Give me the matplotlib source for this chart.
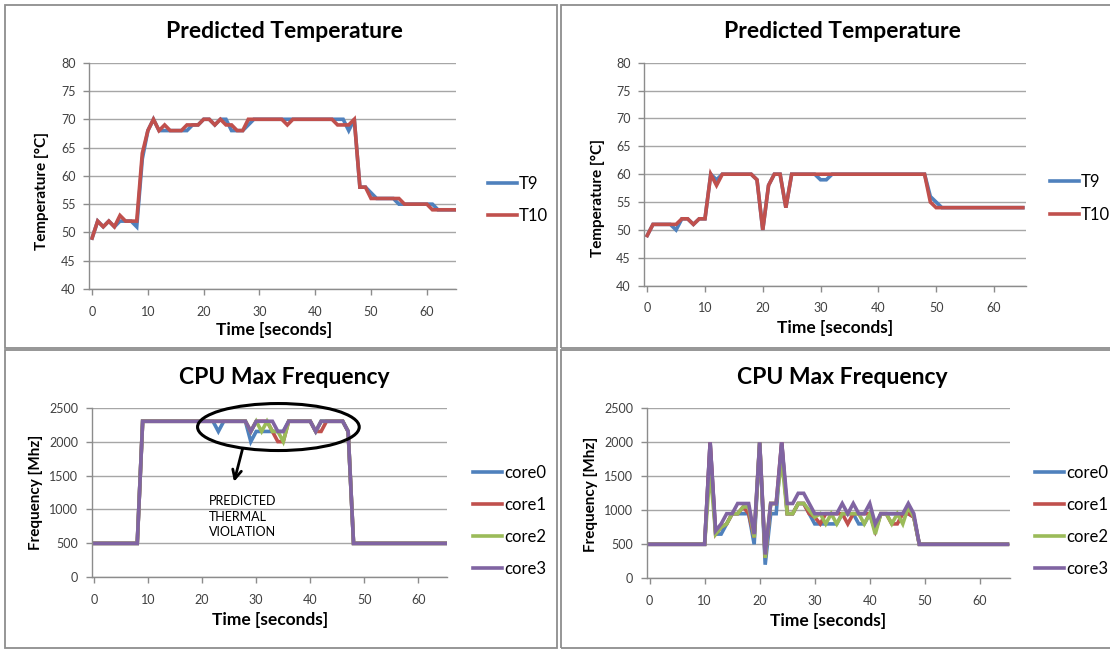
import matplotlib
matplotlib.use("Agg")
import matplotlib.pyplot as plt
from matplotlib.patches import Rectangle, Ellipse

plt.rcParams['font.family'] = ['Lato', 'DejaVu Sans']

# ---------------- data ----------------
time_s = list(range(66))

tl_T9 = [49, 52, 51, 52, 51, 52, 52, 52, 51, 63, 68, 70, 68, 68, 68, 68, 68, 68, 69, 69,
         70, 70, 69, 70, 70, 68, 68, 68, 69, 70, 70, 70, 70, 70, 70, 70, 70, 70, 70, 70,
         70, 70, 70, 70, 70, 70, 68, 70, 58, 58, 57, 56, 56, 56, 56, 55, 55, 55, 55, 55,
         55, 55, 54, 54, 54, 54]
tl_T10 = [49, 52, 51, 52, 51, 53, 52, 52, 52, 64, 68, 70, 68, 69, 68, 68, 68, 69, 69, 69,
          70, 70, 69, 70, 69, 69, 68, 68, 70, 70, 70, 70, 70, 70, 70, 69, 70, 70, 70, 70,
          70, 70, 70, 70, 69, 69, 69, 70, 58, 58, 56, 56, 56, 56, 56, 56, 55, 55, 55, 55,
          55, 54, 54, 54, 54, 54]

tr_T9 = [49, 51, 51, 51, 51, 50, 52, 52, 51, 52, 52, 60, 59, 60, 60, 60, 60, 60, 60, 59,
         50, 58, 60, 60, 54, 60, 60, 60, 60, 60, 59, 59, 60, 60, 60, 60, 60, 60, 60, 60,
         60, 60, 60, 60, 60, 60, 60, 60, 60, 56, 55, 54, 54, 54, 54, 54, 54, 54, 54, 54,
         54, 54, 54, 54, 54, 54]
tr_T10 = [49, 51, 51, 51, 51, 51, 52, 52, 51, 52, 52, 60, 58, 60, 60, 60, 60, 60, 60, 59,
          50, 58, 60, 60, 54, 60, 60, 60, 60, 60, 60, 60, 60, 60, 60, 60, 60, 60, 60, 60,
          60, 60, 60, 60, 60, 60, 60, 60, 60, 55, 54, 54, 54, 54, 54, 54, 54, 54, 54, 54,
          54, 54, 54, 54, 54, 54]

bl_core0 = [500, 500, 500, 500, 500, 500, 500, 500, 500, 2300, 2300, 2300, 2300, 2300, 2300, 2300, 2300, 2300, 2300, 2300,
            2300, 2300, 2300, 2150, 2300, 2300, 2300, 2300, 2300, 2000, 2150, 2150, 2150, 2150, 2150, 2150, 2300, 2300, 2300, 2300,
            2300, 2150, 2300, 2300, 2300, 2300, 2300, 2150, 500, 500, 500, 500, 500, 500, 500, 500, 500, 500, 500, 500,
            500, 500, 500, 500, 500, 500]
bl_core1 = [500, 500, 500, 500, 500, 500, 500, 500, 500, 2300, 2300, 2300, 2300, 2300, 2300, 2300, 2300, 2300, 2300, 2300,
            2300, 2300, 2300, 2300, 2300, 2300, 2300, 2300, 2300, 2150, 2300, 2300, 2300, 2150, 2000, 2000, 2300, 2300, 2300, 2300,
            2300, 2150, 2150, 2300, 2300, 2300, 2300, 2150, 500, 500, 500, 500, 500, 500, 500, 500, 500, 500, 500, 500,
            500, 500, 500, 500, 500, 500]
bl_core2 = [500, 500, 500, 500, 500, 500, 500, 500, 500, 2300, 2300, 2300, 2300, 2300, 2300, 2300, 2300, 2300, 2300, 2300,
            2300, 2300, 2300, 2300, 2300, 2300, 2300, 2300, 2300, 2150, 2300, 2150, 2300, 2150, 2150, 2000, 2300, 2300, 2300, 2300,
            2300, 2150, 2300, 2300, 2300, 2300, 2300, 2150, 500, 500, 500, 500, 500, 500, 500, 500, 500, 500, 500, 500,
            500, 500, 500, 500, 500, 500]
bl_core3 = [500, 500, 500, 500, 500, 500, 500, 500, 500, 2300, 2300, 2300, 2300, 2300, 2300, 2300, 2300, 2300, 2300, 2300,
            2300, 2300, 2300, 2300, 2300, 2300, 2300, 2300, 2300, 2150, 2300, 2300, 2300, 2300, 2150, 2150, 2300, 2300, 2300, 2300,
            2300, 2150, 2300, 2300, 2300, 2300, 2300, 2150, 500, 500, 500, 500, 500, 500, 500, 500, 500, 500, 500, 500,
            500, 500, 500, 500, 500, 500]

br_core0 = [500, 500, 500, 500, 500, 500, 500, 500, 500, 500, 500, 2000, 650, 650, 800, 950, 950, 950, 950, 500,
            2000, 200, 950, 950, 2000, 950, 950, 1100, 1100, 950, 800, 800, 800, 800, 800, 950, 950, 950, 800, 800,
            950, 700, 950, 950, 950, 950, 950, 950, 900, 500, 500, 500, 500, 500, 500, 500, 500, 500, 500, 500,
            500, 500, 500, 500, 500, 500]
br_core1 = [500, 500, 500, 500, 500, 500, 500, 500, 500, 500, 500, 2000, 650, 750, 800, 950, 950, 1050, 950, 600,
            2000, 300, 1100, 1100, 2000, 950, 950, 1100, 1100, 950, 900, 800, 950, 950, 950, 950, 800, 950, 950, 950,
            950, 700, 950, 950, 800, 800, 950, 950, 900, 500, 500, 500, 500, 500, 500, 500, 500, 500, 500, 500,
            500, 500, 500, 500, 500, 500]
br_core2 = [500, 500, 500, 500, 500, 500, 500, 500, 500, 500, 500, 1600, 650, 750, 800, 950, 950, 1050, 1050, 600,
            2000, 300, 1100, 1100, 1750, 950, 950, 1100, 1100, 1000, 900, 950, 800, 950, 800, 950, 950, 950, 950, 800,
            950, 650, 950, 950, 800, 950, 800, 1050, 900, 500, 500, 500, 500, 500, 500, 500, 500, 500, 500, 500,
            500, 500, 500, 500, 500, 500]
br_core3 = [500, 500, 500, 500, 500, 500, 500, 500, 500, 500, 500, 2000, 700, 800, 950, 950, 1100, 1100, 1100, 650,
            2000, 350, 1100, 1100, 2000, 1100, 1100, 1250, 1250, 1100, 950, 950, 950, 950, 950, 1100, 950, 1100, 950, 950,
            1100, 800, 950, 950, 950, 950, 950, 1100, 950, 500, 500, 500, 500, 500, 500, 500, 500, 500, 500, 500,
            500, 500, 500, 500, 500, 500]

x_ticks = [0, 10, 20, 30, 40, 50, 60]
temp_ticks = [40, 45, 50, 55, 60, 65, 70, 75, 80]
freq_ticks = [0, 500, 1000, 1500, 2000, 2500]

title_temp = "Predicted Temperature"
title_freq = "CPU Max Frequency"
xlabel = "Time [seconds]"
ylabel_temp = "Temperature [°C]"
ylabel_freq = "Frequency [Mhz]"
temp_labels = ["T9", "T10"]
core_labels = ["core0", "core1", "core2", "core3"]
annot_text = "PREDICTED\nTHERMAL\nVIOLATION"

# ---------------- style ----------------
W, H = 1110, 650
BLUE, RED, GREEN, PURPLE = "#4F81BD", "#C0504D", "#9BBB59", "#8064A2"
GRID = "#A6A6A6"
AXC = "#8C8C8C"
TICKC = "#404040"
TITLE_FS = 16.5
XL_FS = 12.5
YL_FS = 11
TICK_FS = 9
LEG_FS = 12

fig = plt.figure(figsize=(W / 100, H / 100), dpi=100)
fig.patch.set_facecolor("white")


def rect(x0, y0, x1, y1):
    return [x0 / W, 1 - y1 / H, (x1 - x0) / W, (y1 - y0) / H]


# panel borders
for (x0, y0, x1, y1) in [(5, 5, 557, 348), (561, 5, 1112, 348), (5, 350, 557, 648), (561, 350, 1112, 648)]:
    fig.add_artist(Rectangle((x0 / W, 1 - y1 / H), (x1 - x0) / W, (y1 - y0) / H,
                             transform=fig.transFigure, fill=False, edgecolor="#8E8E8E", lw=1.3))


def style_axes(ax, yticks, xlim):
    ax.set_xlim(*xlim)
    ax.set_ylim(yticks[0], yticks[-1])
    ax.set_yticks(yticks)
    ax.set_xticks(x_ticks)
    for s in ["top", "right"]:
        ax.spines[s].set_visible(False)
    for s in ["left", "bottom"]:
        ax.spines[s].set_color(AXC)
        ax.spines[s].set_linewidth(1.0)
    ax.grid(axis="y", color=GRID, lw=1.0)
    ax.set_axisbelow(True)
    ax.tick_params(axis="both", direction="out", length=4, width=1.0, color=AXC,
                   labelsize=TICK_FS, labelcolor=TICKC)
    ax.tick_params(axis="y", pad=6)
    ax.tick_params(axis="x", pad=8)


def legend(handles, labels, x, y, spacing):
    fig.legend(handles, labels, loc="center left", bbox_to_anchor=(x / W, 1 - y / H),
               bbox_transform=fig.transFigure, frameon=False, fontsize=LEG_FS,
               handlelength=1.75, handletextpad=0.12, labelspacing=spacing,
               borderpad=0, borderaxespad=0)


LW = 2.6

# ---- top-left ----
ax1 = fig.add_axes(rect(89.3, 62.7, 456.4, 289.0))
style_axes(ax1, temp_ticks, (-0.5, 65.3))
l1, = ax1.plot(time_s, tl_T9, color=BLUE, lw=LW, solid_joinstyle="miter")
l2, = ax1.plot(time_s, tl_T10, color=RED, lw=LW, solid_joinstyle="miter")
legend([l1, l2], temp_labels, 488, 200, 1.0)
fig.text(284 / W, 1 - 31 / H, title_temp, ha="center", va="center", fontsize=TITLE_FS, fontweight="bold")
fig.text(274 / W, 1 - 330 / H, xlabel, ha="center", va="center", fontsize=XL_FS, fontweight="bold")
fig.text(42 / W, 1 - 191 / H, ylabel_temp, ha="center", va="center", rotation=90, fontsize=YL_FS, fontweight="bold")

# ---- top-right ----
ax2 = fig.add_axes(rect(644.3, 62.7, 1025.7, 285.7))
style_axes(ax2, temp_ticks, (-0.5, 65.5))
l1, = ax2.plot(time_s, tr_T9, color=BLUE, lw=LW, solid_joinstyle="miter")
l2, = ax2.plot(time_s, tr_T10, color=RED, lw=LW, solid_joinstyle="miter")
legend([l1, l2], temp_labels, 1050, 198.5, 1.0)
fig.text(842 / W, 1 - 32 / H, title_temp, ha="center", va="center", fontsize=TITLE_FS, fontweight="bold")
fig.text(835 / W, 1 - 328 / H, xlabel, ha="center", va="center", fontsize=XL_FS, fontweight="bold")
fig.text(598 / W, 1 - 198 / H, ylabel_temp, ha="center", va="center", rotation=90, fontsize=YL_FS, fontweight="bold")

# ---- bottom-left ----
ax3 = fig.add_axes(rect(92.1, 407.7, 447.1, 577.3))
style_axes(ax3, freq_ticks, (-0.35, 65.3))
hs = []
for vals, c in zip([bl_core0, bl_core1, bl_core2, bl_core3], [BLUE, RED, GREEN, PURPLE]):
    h, = ax3.plot(time_s, vals, color=c, lw=LW, solid_joinstyle="miter")
    hs.append(h)
legend(hs, core_labels, 473, 521, 0.95)
fig.text(284 / W, 1 - 377 / H, title_freq, ha="center", va="center", fontsize=TITLE_FS, fontweight="bold")
fig.text(270 / W, 1 - 620 / H, xlabel, ha="center", va="center", fontsize=XL_FS, fontweight="bold")
fig.text(36 / W, 1 - 492 / H, ylabel_freq, ha="center", va="center", rotation=90, fontsize=YL_FS, fontweight="bold")
ax3.add_patch(Ellipse((34.1, 2215), 29.9, 693, fill=False, edgecolor="black", lw=2.2,
                      clip_on=False, zorder=5))
ax3.annotate("", xy=(25.9, 1408), xytext=(27.5, 1901),
             arrowprops=dict(arrowstyle="->", lw=2.0, color="black", mutation_scale=16,
                             shrinkA=0, shrinkB=0), zorder=5)
ax3.text(21.3, 896, annot_text, ha="left", va="center", fontsize=9, linespacing=1.35)

# ---- bottom-right ----
ax4 = fig.add_axes(rect(647.1, 408.3, 1009.6, 578.3))
style_axes(ax4, freq_ticks, (-0.45, 65.4))
hs = []
for vals, c in zip([br_core0, br_core1, br_core2, br_core3], [BLUE, RED, GREEN, PURPLE]):
    h, = ax4.plot(time_s, vals, color=c, lw=LW, solid_joinstyle="miter")
    hs.append(h)
legend(hs, core_labels, 1035, 521, 0.95)
fig.text(842 / W, 1 - 377 / H, title_freq, ha="center", va="center", fontsize=TITLE_FS, fontweight="bold")
fig.text(828 / W, 1 - 621 / H, xlabel, ha="center", va="center", fontsize=XL_FS, fontweight="bold")
fig.text(591 / W, 1 - 494 / H, ylabel_freq, ha="center", va="center", rotation=90, fontsize=YL_FS, fontweight="bold")

fig.savefig("out.png", dpi=100)
